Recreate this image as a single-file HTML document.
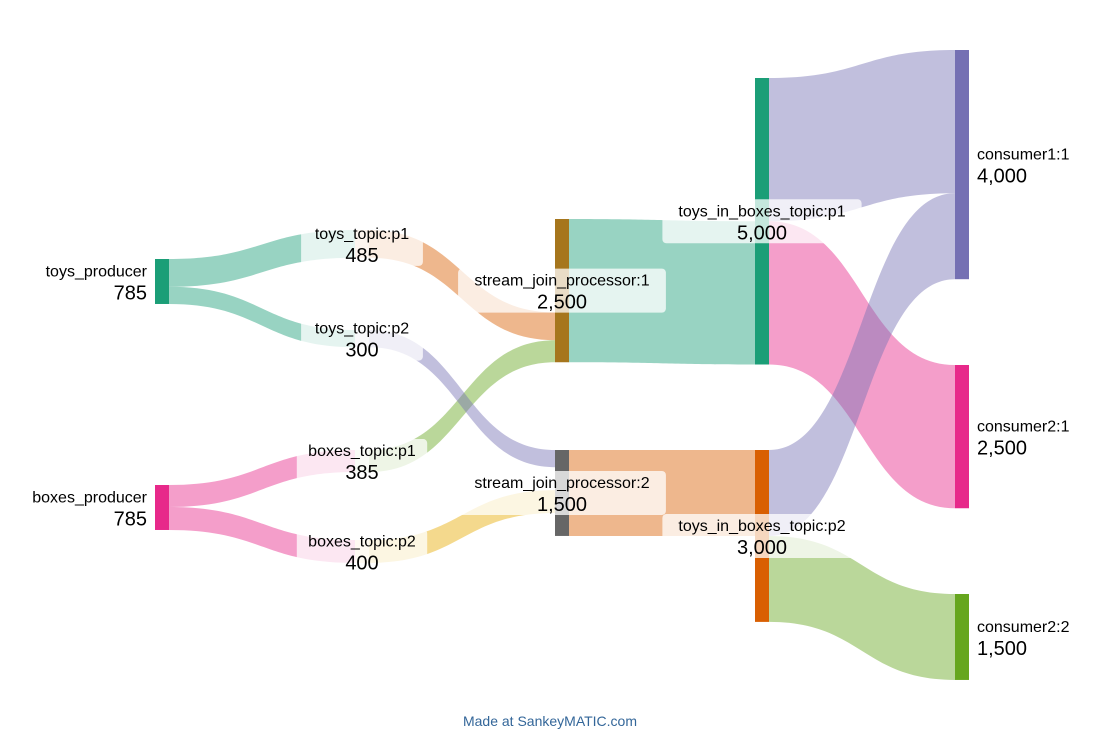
<!DOCTYPE html>
<html><head><meta charset="utf-8"><style>
body{margin:0;background:#fff;font-family:"Liberation Sans",sans-serif}
svg{display:block}
</style></head><body>
<svg id="chart" width="1100" height="736" viewBox="0 0 1100 736" xmlns="http://www.w3.org/2000/svg">
<g id="flows"></g>
<g id="nodes"></g>
<g id="labels"></g>
<text x="550" y="726" text-anchor="middle" font-size="14" fill="#336699">Made at SankeyMATIC.com</text>
</svg>
<script>
const nodeNames=["toys_producer","boxes_producer","toys_topic:p1","toys_topic:p2","boxes_topic:p1","boxes_topic:p2","stream_join_processor:1","stream_join_processor:2","toys_in_boxes_topic:p1","toys_in_boxes_topic:p2","consumer1:1","consumer2:1","consumer2:2"];
const nodeColors=["#1b9e77","#e7298a","#f6d6c0","#e6e5f0","#e2efd8","#f9eccc","#a6761d","#666666","#1b9e77","#d95f02","#7570b3","#e7298a","#66a61e"];
const nodeCols=[0,0,1,1,1,1,2,2,3,3,4,4,4];
const nodeTops=[259,485,230,330,450,540,219,450,78,450,50,365,594];
const nodeInStart=[0,0,0,0,0,0,1630,0,2500,0,0,0,0];
const flowSrc=[0,0,1,1,2,4,3,5,6,7,8,8,9,9];
const flowTgt=[2,3,4,5,6,6,7,7,8,9,10,11,10,12];
const flowValues=[485,300,385,400,485,385,300,400,2500,1500,2500,2500,1500,1500];
const flowColors=["#1b9e77","#1b9e77","#e7298a","#e7298a","#d95f02","#66a61e","#7570b3","#e6ab02","#1b9e77","#d95f02","#7570b3","#e7298a","#7570b3","#66a61e"];
const flowTgtGap=[0,0,0,0,0,0,0,400,0,0,0,0,0,0];

const K=0.0573, NW=14;
const colX=c=>155+c*200;
const h=v=>v*K;
const NS="http://www.w3.org/2000/svg";
const outSum=nodeNames.map(()=>0), inSum=nodeNames.map(()=>0);
flowValues.forEach((v,i)=>{outSum[flowSrc[i]]+=v;inSum[flowTgt[i]]+=v;});
const nodeVal=nodeNames.map((_,i)=>Math.max(outSum[i],inSum[i]+nodeInStart[i]+flowTgtGap.reduce((a,g,j)=>a+(flowTgt[j]===i?g:0),0)));
const outOff=nodeNames.map(()=>0), inOff=nodeInStart.slice();
const fg=document.getElementById('flows');
flowValues.forEach((v,i)=>{
  const s=flowSrc[i],t=flowTgt[i];
  inOff[t]+=flowTgtGap[i];
  const x0=colX(nodeCols[s])+NW,x1=colX(nodeCols[t]);
  const y0=nodeTops[s]+h(outOff[s]),y1=nodeTops[t]+h(inOff[t]),w=h(v);
  outOff[s]+=v;inOff[t]+=v;
  const xm=(x0+x1)/2;
  const p=document.createElementNS(NS,'path');
  p.setAttribute('d',`M${x0},${y0}C${xm},${y0} ${xm},${y1} ${x1},${y1}L${x1},${y1+w}C${xm},${y1+w} ${xm},${y0+w} ${x0},${y0+w}Z`);
  p.setAttribute('fill',flowColors[i]);p.setAttribute('fill-opacity','0.45');
  
  
  fg.appendChild(p);
});
const ng=document.getElementById('nodes'),lg=document.getElementById('labels');
nodeNames.forEach((n,i)=>{
  const x=colX(nodeCols[i]),y=nodeTops[i],hh=h(nodeVal[i]);
  const r=document.createElementNS(NS,'rect');
  r.setAttribute('x',x);r.setAttribute('y',y);r.setAttribute('width',NW);r.setAttribute('height',hh);
  r.setAttribute('fill',nodeColors[i]);
  
  
  ng.appendChild(r);
  const c=nodeCols[i],cy=y+hh/2;
  let anchor,tx;
  const g=document.createElementNS(NS,'g');
  
  
  if(c===0){anchor='end';tx=x-8;}
  else if(c===4){anchor='start';tx=x+NW+8;}
  else{anchor='middle';tx=x+NW/2;
    const bw=n.length*8.6+10;
    const b=document.createElementNS(NS,'rect');
    b.setAttribute('x',tx-bw/2);b.setAttribute('y',cy-22);b.setAttribute('width',bw);b.setAttribute('height',44);
    b.setAttribute('rx',4);b.setAttribute('fill','#fff');b.setAttribute('fill-opacity','0.75');
    g.appendChild(b);}
  const t1=document.createElementNS(NS,'text');
  t1.setAttribute('x',tx);t1.setAttribute('y',cy-5);t1.setAttribute('text-anchor',anchor);t1.setAttribute('font-size','16');t1.textContent=n;
  const t2=document.createElementNS(NS,'text');
  t2.setAttribute('x',tx);t2.setAttribute('y',cy+18);t2.setAttribute('text-anchor',anchor);t2.setAttribute('font-size','20');t2.textContent=nodeVal[i].toLocaleString('en-US');
  g.appendChild(t1);g.appendChild(t2);lg.appendChild(g);
});
</script>
</body></html>
